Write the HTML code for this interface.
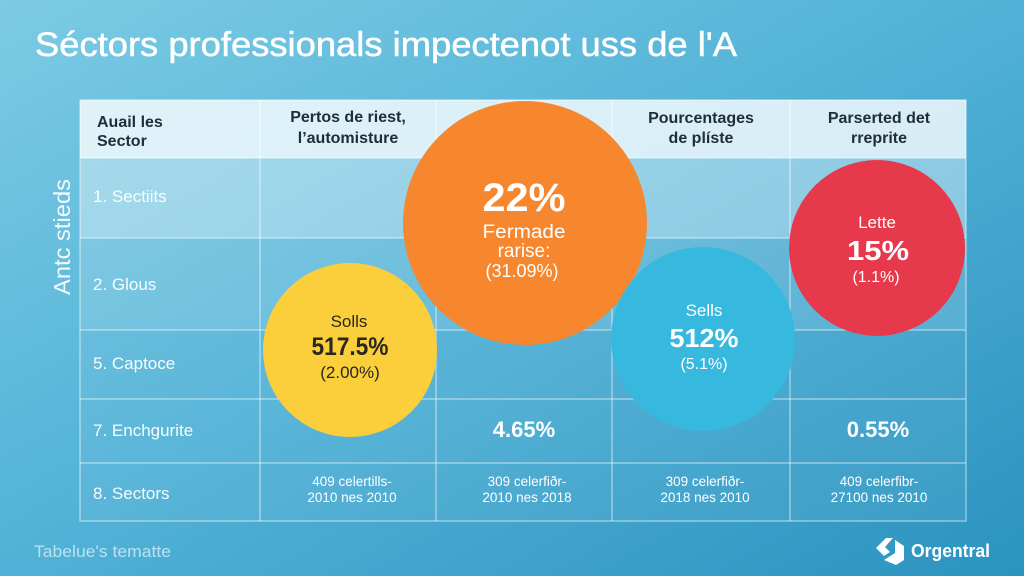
<!DOCTYPE html>
<html><head><meta charset="utf-8"><style>
html,body{margin:0;padding:0;width:1024px;height:576px;overflow:hidden;}
svg{display:block;font-family:"Liberation Sans",sans-serif;}
</style></head><body>
<svg width="1024" height="576" viewBox="0 0 1024 576" xmlns="http://www.w3.org/2000/svg">
<defs>
<linearGradient id="bg" x1="0" y1="0" x2="1" y2="1">
<stop offset="0" stop-color="#7ccbe4"/>
<stop offset="0.45" stop-color="#55b4d8"/>
<stop offset="1" stop-color="#2b93c0"/>
</linearGradient>
</defs>
<rect width="1024" height="576" fill="url(#bg)"/>

<!-- Title -->
<text x="35" y="56" font-size="34" fill="#fff" stroke="#fff" stroke-width="0.5" textLength="702" lengthAdjust="spacingAndGlyphs">Séctors professionals impectenot uss de l'A</text>

<!-- Table backgrounds -->
<rect x="80" y="100" width="886" height="58" fill="#fff" opacity="0.78"/>
<rect x="80" y="158" width="886" height="80" fill="#fff" opacity="0.38"/>
<rect x="80" y="238" width="886" height="92" fill="#fff" opacity="0.15"/>
<rect x="80" y="330" width="886" height="191" fill="#fff" opacity="0.05"/>

<!-- Grid -->
<g stroke="#fff" stroke-opacity="0.45" stroke-width="1.5" fill="none">
<rect x="80" y="100" width="886" height="421"/>
<line x1="80" y1="158" x2="966" y2="158"/>
<line x1="80" y1="238" x2="966" y2="238"/>
<line x1="80" y1="330" x2="966" y2="330"/>
<line x1="80" y1="399" x2="966" y2="399"/>
<line x1="80" y1="463" x2="966" y2="463"/>
<line x1="260" y1="100" x2="260" y2="521"/>
<line x1="436" y1="100" x2="436" y2="521"/>
<line x1="612" y1="100" x2="612" y2="521"/>
<line x1="790" y1="100" x2="790" y2="521"/>
</g>

<!-- Header text -->
<g font-size="16" font-weight="bold" fill="#1f2d3a">
<text x="97" y="127">Auail les</text>
<text x="97" y="146">Sector</text>
<text x="348" y="122" text-anchor="middle">Pertos de riest,</text>
<text x="348" y="143" text-anchor="middle">l’automisture</text>
<text x="701" y="123" text-anchor="middle">Pourcentages</text>
<text x="701" y="143" text-anchor="middle">de plíste</text>
<text x="879" y="123" text-anchor="middle">Parserted det</text>
<text x="879" y="143" text-anchor="middle">rreprite</text>
</g>

<!-- Vertical label -->
<text transform="translate(70,295) rotate(-90)" font-size="23" fill="#fff" fill-opacity="0.92" textLength="116" lengthAdjust="spacingAndGlyphs">Antc stieds</text>

<!-- Row labels -->
<g font-size="17" fill="#fff" fill-opacity="0.95">
<text x="93" y="202">1. Sectiits</text>
<text x="93" y="290">2. Glous</text>
<text x="93" y="369">5. Captoce</text>
<text x="93" y="436">7. Enchgurite</text>
<text x="93" y="499">8. Sectors</text>
</g>

<!-- Row 4 values -->
<g font-size="22" font-weight="bold" fill="#fff" text-anchor="middle">
<text x="524" y="437">4.65%</text>
<text x="878" y="437">0.55%</text>
</g>

<!-- Row 5 values -->
<g font-size="13.5" fill="#fff" text-anchor="middle">
<text x="352" y="486">409 celertills-</text>
<text x="352" y="502">2010 nes 2010</text>
<text x="527" y="486">309 celerfiðr-</text>
<text x="527" y="502">2010 nes 2018</text>
<text x="705" y="486">309 celerfiðr-</text>
<text x="705" y="502">2018 nes 2010</text>
<text x="879" y="486">409 celerfibr-</text>
<text x="879" y="502">27100 nes 2010</text>
</g>

<!-- Circles -->
<circle cx="525" cy="223" r="122" fill="#f6872e"/>
<circle cx="350" cy="350" r="87" fill="#fbcf3c"/>
<circle cx="703" cy="339" r="92" fill="#37b8df"/>
<circle cx="877" cy="248" r="88" fill="#e63a4c"/>

<!-- Orange text -->
<g fill="#fff" text-anchor="middle">
<text x="524" y="211" font-size="40" font-weight="bold" textLength="83" lengthAdjust="spacingAndGlyphs">22%</text>
<text x="524" y="238" font-size="19" textLength="83" lengthAdjust="spacingAndGlyphs">Fermade</text>
<text x="524" y="257" font-size="19">rarise:</text>
<text x="522" y="277" font-size="18">(31.09%)</text>
</g>

<!-- Yellow text -->
<g fill="#2a2620" text-anchor="middle">
<text x="349" y="327" font-size="17">Solls</text>
<text x="350" y="355" font-size="25" font-weight="bold" textLength="77" lengthAdjust="spacingAndGlyphs">517.5%</text>
<text x="350" y="378" font-size="17">(2.00%)</text>
</g>

<!-- Blue text -->
<g fill="#fff" text-anchor="middle">
<text x="704" y="316" font-size="17">Sells</text>
<text x="704" y="347" font-size="26" font-weight="bold" textLength="69" lengthAdjust="spacingAndGlyphs">512%</text>
<text x="704" y="369" font-size="16">(5.1%)</text>
</g>

<!-- Red text -->
<g fill="#fff" text-anchor="middle">
<text x="877" y="228" font-size="17">Lette</text>
<text x="878" y="260" font-size="28" font-weight="bold" textLength="62" lengthAdjust="spacingAndGlyphs">15%</text>
<text x="876" y="282" font-size="16">(1.1%)</text>
</g>

<!-- Footer -->
<text x="34" y="557" font-size="17" fill="#cdebf6" fill-opacity="0.85" textLength="137" lengthAdjust="spacingAndGlyphs">Tabelue's tematte</text>

<!-- Logo -->
<g fill="#fff">
<polygon points="876,548 886,538 893,538 885,547 890,552 884,556"/>
<polygon points="895,540 904,546 904,560 896,565 884,560 895,553"/>
</g>
<text x="911" y="557" font-size="18" font-weight="bold" fill="#fff" textLength="79" lengthAdjust="spacingAndGlyphs">Orgentral</text>
</svg>
</body></html>
